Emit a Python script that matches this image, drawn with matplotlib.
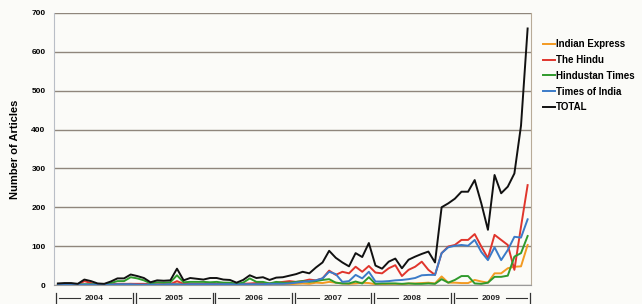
import numpy as np
import matplotlib
matplotlib.use("Agg")
import matplotlib.pyplot as plt
from matplotlib.transforms import blended_transform_factory

# monthly article counts, Jan 2004 .. Dec 2009
years = ["2004", "2005", "2006", "2007", "2008", "2009"]

indian_express = [0, 0, 0, 0, 1, 1, 0, 0, 1, 2, 2, 3,
                  2, 1, 0, 1, 1, 1, 4, 1, 1, 1, 1, 2,
                  1, 1, 1, 0, 1, 2, 1, 1, 1, 2, 2, 2,
                  3, 4, 3, 6, 5, 8, 6, 4, 3, 4, 6, 5,
                  2, 2, 3, 3, 2, 4, 4, 5, 6, 4, 22, 6,
                  6, 5, 5, 13, 9, 6, 30, 30, 43, 47, 48, 103]

the_hindu = [1, 1, 1, 1, 10, 5, 1, 1, 2, 3, 3, 3,
             3, 3, 2, 2, 2, 2, 10, 3, 3, 3, 3, 4,
             3, 3, 3, 2, 3, 4, 5, 5, 4, 6, 8, 10,
             8, 10, 14, 12, 17, 37, 26, 34, 30, 47, 34, 49,
             32, 30, 43, 51, 23, 39, 47, 60, 39, 26, 82, 99,
             103, 116, 116, 131, 99, 69, 129, 116, 103, 39, 150, 257]

hindustan_times = [2, 2, 2, 1, 2, 2, 2, 2, 5, 10, 10, 20,
                   17, 12, 4, 7, 6, 7, 25, 7, 8, 8, 8, 7,
                   8, 6, 6, 3, 6, 17, 8, 8, 4, 8, 6, 6,
                   8, 10, 8, 10, 13, 15, 6, 4, 4, 9, 4, 20,
                   3, 4, 4, 4, 3, 4, 3, 3, 4, 3, 15, 6,
                   13, 23, 23, 4, 3, 6, 21, 21, 24, 73, 82, 126]

times_of_india = [1, 1, 1, 1, 1, 1, 1, 1, 1, 2, 2, 2,
                  1, 1, 1, 1, 1, 2, 2, 1, 2, 2, 2, 2,
                  2, 2, 2, 1, 2, 2, 2, 2, 3, 3, 3, 4,
                  6, 8, 10, 12, 17, 34, 28, 8, 10, 26, 17, 34,
                  9, 9, 10, 12, 13, 15, 18, 25, 26, 26, 82, 97,
                  101, 103, 101, 116, 85, 64, 97, 64, 90, 124, 122, 169]

total = [4, 5, 5, 3, 14, 10, 4, 3, 9, 17, 17, 27,
         23, 18, 7, 12, 11, 12, 42, 12, 18, 16, 14, 18,
         18, 14, 13, 6, 13, 25, 18, 20, 13, 19, 20, 24,
         28, 34, 30, 45, 58, 88, 70, 58, 48, 82, 72, 108,
         50, 42, 60, 68, 43, 65, 73, 80, 86, 58, 200, 210,
         222, 240, 240, 270, 210, 142, 283, 236, 253, 287, 410, 660]

bg = "#fbfbf8"
plt.rcParams['font.family'] = ['Liberation Sans', 'DejaVu Sans']

fig = plt.figure(figsize=(6.42, 3.04), dpi=100, facecolor=bg)
ax = fig.add_axes([0.084, 0.0625, 0.743, 0.895], facecolor=bg)

months = np.arange(len(total))
series = [
    ("Indian Express", indian_express, "#f39a22"),
    ("The Hindu", the_hindu, "#e0352c"),
    ("Hindustan Times", hindustan_times, "#2f9a2c"),
    ("Times of India", times_of_india, "#3b7bc8"),
    ("TOTAL", total, "#111111"),
]
for name, vals, col in series:
    ax.plot(months, vals, color=col, lw=1.4, label=name)

ax.set_xlim(-0.6, 71.5)
ax.set_ylim(0, 700)
ax.set_yticks(range(0, 701, 100))
ax.yaxis.grid(True, color="#8f867c", lw=1.0)
ax.set_axisbelow(True)
ax.set_xticks([])
ax.tick_params(axis="y", length=0, pad=6, labelsize=6)
for lab in ax.get_yticklabels():
    lab.set_fontweight("bold")

ax.spines["top"].set_visible(False)
ax.spines["left"].set_color("#b9bec6")
ax.spines["right"].set_color("#b8ab98")
ax.spines["bottom"].set_color("#9a9a9a")

ax.set_ylabel("Number of Articles", fontsize=8, fontweight="bold", labelpad=8)

# year band labels under the axis: |---- 2004 ----||---- 2005 ----| ...
tr = blended_transform_factory(ax.transData, ax.transAxes)
yb = -0.048
starts = [-0.3] + [12 * k - 0.2 for k in range(1, 6)]
ends = [12 * k + 11.4 for k in range(0, 5)] + [71.3]
for k, yr in enumerate(years):
    s, e = starts[k], ends[k]
    c = (s + e) / 2
    ax.text(c, yb, yr, transform=tr, ha="center", va="center",
            fontsize=6, fontweight="bold", color="#222222")
    ax.plot([s + 0.4, c - 2.2], [yb, yb], transform=tr, color="#333333", lw=0.8, clip_on=False)
    ax.plot([c + 2.2, e - 0.4], [yb, yb], transform=tr, color="#333333", lw=0.8, clip_on=False)
    for xb in (s, e):
        ax.plot([xb, xb], [yb - 0.018, yb + 0.018], transform=tr, color="#333333", lw=0.9, clip_on=False)

leg = ax.legend(loc="upper left", bbox_to_anchor=(0.832, 0.9), bbox_transform=fig.transFigure,
                frameon=False, handlelength=1.2, handletextpad=0.1, labelspacing=0.6,
                prop={"size": 7, "weight": "bold"})

fig.savefig("out.png", dpi=100, facecolor=bg)
